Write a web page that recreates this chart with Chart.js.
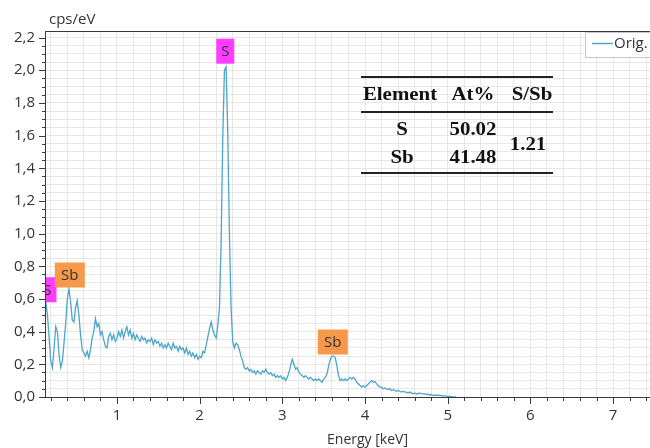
<!DOCTYPE html>
<html>
<head>
<meta charset="utf-8">
<script src="https://cdn.jsdelivr.net/npm/chart.js@4/dist/chart.umd.min.js"></script>
<style>
  html, body { margin: 0; padding: 0; background: #fff; overflow: hidden; }
  #contenedor { width: 700px; height: 448px; position: relative; }
</style>
</head>
<body>
<div id="contenedor"><canvas id="espectro"></canvas></div>
<script>
var energias = [
  0.12,0.14,0.16,0.18,0.20,0.22,0.24,0.26,0.28,0.30,
  0.32,0.34,0.36,0.38,0.40,0.42,0.44,0.46,0.48,0.50,
  0.52,0.54,0.56,0.58,0.60,0.62,0.64,0.66,0.68,0.70,
  0.72,0.74,0.76,0.78,0.80,0.82,0.84,0.86,0.88,0.90,
  0.92,0.94,0.96,0.98,1.00,1.02,1.04,1.06,1.08,1.10,
  1.12,1.14,1.16,1.18,1.20,1.22,1.24,1.26,1.28,1.30,
  1.32,1.34,1.36,1.38,1.40,1.42,1.44,1.46,1.48,1.50,
  1.52,1.54,1.56,1.58,1.60,1.62,1.64,1.66,1.68,1.70,
  1.72,1.74,1.76,1.78,1.80,1.82,1.84,1.86,1.88,1.90,
  1.92,1.94,1.96,1.98,2.00,2.02,2.04,2.06,2.08,2.10,
  2.12,2.14,2.16,2.18,2.20,2.22,2.24,2.26,2.28,2.30,
  2.32,2.34,2.36,2.38,2.40,2.42,2.44,2.46,2.48,2.50,
  2.52,2.54,2.56,2.58,2.60,2.62,2.64,2.66,2.68,2.70,
  2.72,2.74,2.76,2.78,2.80,2.82,2.84,2.86,2.88,2.90,
  2.92,2.94,2.96,2.98,3.00,3.02,3.04,3.06,3.08,3.10,
  3.12,3.14,3.16,3.18,3.20,3.22,3.24,3.26,3.28,3.30,
  3.32,3.34,3.36,3.38,3.40,3.42,3.44,3.46,3.48,3.50,
  3.52,3.54,3.56,3.58,3.60,3.62,3.64,3.66,3.68,3.70,
  3.72,3.74,3.76,3.78,3.80,3.82,3.84,3.86,3.88,3.90,
  3.92,3.94,3.96,3.98,4.00,4.02,4.04,4.06,4.08,4.10,
  4.12,4.14,4.16,4.18,4.20,4.22,4.24,4.26,4.28,4.30,
  4.32,4.34,4.36,4.38,4.40,4.42,4.44,4.46,4.48,4.50,
  4.52,4.54,4.56,4.58,4.60,4.62,4.64,4.66,4.68,4.70,
  4.72,4.74,4.76,4.78,4.80,4.82,4.84,4.86,4.88,4.90,
  4.92,4.94,4.96,4.98,5.00,5.02,5.04,5.06,5.08,5.10
];

// cps/eV (serie "Orig.")
var cuentas = [
  0.60,0.58,0.50,0.36,0.22,0.18,0.30,0.43,0.40,0.26,
  0.18,0.22,0.33,0.45,0.60,0.66,0.58,0.47,0.46,0.55,
  0.59,0.50,0.38,0.29,0.27,0.25,0.28,0.24,0.29,0.36,
  0.40,0.48,0.43,0.45,0.38,0.40,0.35,0.31,0.30,0.37,
  0.39,0.35,0.38,0.34,0.36,0.40,0.37,0.41,0.36,0.40,
  0.43,0.38,0.41,0.36,0.39,0.35,0.38,0.36,0.34,0.37,
  0.35,0.36,0.33,0.35,0.34,0.36,0.32,0.35,0.33,0.34,
  0.31,0.33,0.30,0.32,0.30,0.33,0.31,0.29,0.33,0.30,
  0.31,0.28,0.31,0.29,0.30,0.27,0.30,0.26,0.28,0.25,
  0.27,0.24,0.26,0.23,0.25,0.24,0.28,0.27,0.32,0.37,
  0.42,0.46,0.41,0.38,0.36,0.44,0.55,0.95,1.60,2.00,
  2.02,1.62,1.00,0.55,0.34,0.30,0.33,0.32,0.29,0.25,
  0.22,0.18,0.17,0.18,0.16,0.17,0.15,0.16,0.14,0.16,
  0.15,0.14,0.16,0.15,0.17,0.15,0.14,0.15,0.13,0.14,
  0.12,0.13,0.12,0.13,0.11,0.12,0.10,0.12,0.15,0.19,
  0.23,0.20,0.17,0.18,0.15,0.14,0.13,0.12,0.13,0.12,
  0.11,0.12,0.11,0.10,0.11,0.10,0.11,0.10,0.09,0.11,
  0.12,0.14,0.19,0.23,0.25,0.25,0.24,0.19,0.13,0.10,
  0.11,0.10,0.11,0.10,0.11,0.12,0.11,0.12,0.11,0.09,
  0.08,0.07,0.06,0.07,0.06,0.07,0.08,0.09,0.10,0.09,
  0.095,0.08,0.07,0.06,0.06,0.05,0.055,0.05,0.045,0.05,
  0.04,0.045,0.04,0.035,0.04,0.035,0.03,0.035,0.03,0.03,
  0.025,0.03,0.025,0.02,0.025,0.02,0.02,0.025,0.02,0.018,
  0.02,0.015,0.018,0.012,0.015,0.01,0.012,0.01,0.012,0.008,
  0.01,0.006,0.008,0.005,0.004,0.003,0.002,0.001,0,0
];

var xEtiquetas = ['1', '2', '3', '4', '5', '6', '7'];
var yEtiquetas = ['0,0', '0,2', '0,4', '0,6', '0,8', '1,0', '1,2', '1,4', '1,6', '1,8', '2,0', '2,2'];

// Marcas de elementos sobre los picos
var picosNombre = ['S', 'Sb', 'S', 'Sb'];
var picosEnergia = [0.16, 0.43, 2.31, 3.61];
var picosAltura = [0.58, 0.67, 2.04, 0.26];

// Tabla de composición
var tablaCabecera = ['Element', 'At%', 'S/Sb'];
var tablaElementos = ['S', 'Sb'];
var tablaAtomico = ['50.02', '41.48'];
var tablaRelacion = '1.21';

var colorLinea = '#4ea6c6';
var colorTexto = '#333333';
var colorMarca = { 'S': '#ff3cff', 'Sb': '#f7994a' };
var fuente = "'Open Sans', 'DejaVu Sans', sans-serif";

function esEntero(v) { return Math.abs(v - Math.round(v)) < 1e-6; }
function esMayorY(v) { return Math.abs(v * 5 - Math.round(v * 5)) < 1e-6; }

var pluginDibujo = {
  id: 'dibujoExtra',
  afterDatasetsDraw: function(chart) {
    var ctx = chart.ctx, area = chart.chartArea;
    var sx = chart.scales.x, sy = chart.scales.y;
    ctx.save();
    ctx.beginPath();
    ctx.rect(area.left, area.top, area.right - area.left, area.bottom - area.top);
    ctx.clip();
    picosNombre.forEach(function(nombre, i) {
      var px = sx.getPixelForValue(picosEnergia[i]);
      var py = sy.getPixelForValue(picosAltura[i]);
      var w = nombre.length > 1 ? 30 : 18, h = 25;
      ctx.fillStyle = colorMarca[nombre];
      ctx.fillRect(px - w / 2, py - h, w, h);
      ctx.fillStyle = colorTexto;
      ctx.font = '15px ' + fuente;
      ctx.textAlign = 'center';
      ctx.textBaseline = 'middle';
      ctx.fillText(nombre, px, py - h / 2 + 1);
    });
    ctx.restore();
  },
  afterDraw: function(chart) {
    var ctx = chart.ctx, area = chart.chartArea;
    var sx = chart.scales.x, sy = chart.scales.y;
    ctx.save();

    // borde del área
    ctx.strokeStyle = '#3a3a3a';
    ctx.lineWidth = 1;
    ctx.strokeRect(area.left + 0.5, area.top + 0.5, area.right - area.left, area.bottom - area.top);

    // marcas de los ejes
    ctx.beginPath();
    sx.ticks.forEach(function(t) {
      var px = Math.round(sx.getPixelForValue(t.value)) + 0.5;
      var largo = esEntero(t.value) ? 7 : 4;
      ctx.moveTo(px, area.bottom);
      ctx.lineTo(px, area.bottom + largo);
    });
    sy.ticks.forEach(function(t) {
      var py = Math.round(sy.getPixelForValue(t.value)) + 0.5;
      var largo = esMayorY(t.value) ? 6 : 3;
      ctx.moveTo(area.left, py);
      ctx.lineTo(area.left - largo, py);
    });
    ctx.stroke();

    // unidad del eje y
    ctx.fillStyle = colorTexto;
    ctx.font = '15px ' + fuente;
    ctx.textAlign = 'left';
    ctx.textBaseline = 'middle';
    ctx.fillText('cps/eV', area.left + 4, 20);

    // leyenda
    var lx = 585, ly = 32;
    ctx.fillStyle = '#ffffff';
    ctx.fillRect(lx, ly, 110, 25);
    ctx.strokeStyle = '#c8c8c8';
    ctx.strokeRect(lx + 0.5, ly + 0.5, 110, 25);
    ctx.strokeStyle = colorLinea;
    ctx.lineWidth = 1.5;
    ctx.beginPath();
    ctx.moveTo(lx + 7, ly + 11.5);
    ctx.lineTo(lx + 28, ly + 11.5);
    ctx.stroke();
    ctx.fillStyle = colorTexto;
    ctx.fillText(chart.data.datasets[0].label, lx + 29, ly + 12);

    // tabla
    var tx0 = 361, tx1 = 553;
    var colX = [400, 473, 532];
    ctx.strokeStyle = '#222';
    ctx.lineWidth = 2;
    [77, 112, 173].forEach(function(y) {
      ctx.beginPath();
      ctx.moveTo(tx0, y);
      ctx.lineTo(tx1, y);
      ctx.stroke();
    });
    ctx.fillStyle = '#111';
    ctx.font = "bold 18px 'Liberation Serif', 'DejaVu Serif', serif";
    ctx.textAlign = 'center';
    ctx.textBaseline = 'middle';
    function texto(t, x, y) {
      ctx.save();
      ctx.translate(x, y);
      ctx.scale(1.16, 1);
      ctx.fillText(t, 0, 0);
      ctx.restore();
    }
    tablaCabecera.forEach(function(t, i) { texto(t, colX[i], 95); });
    tablaElementos.forEach(function(t, i) { texto(t, 402, 130 + i * 28); });
    tablaAtomico.forEach(function(t, i) { texto(t, 473, 130 + i * 28); });
    texto(tablaRelacion, 528, 145);

    ctx.restore();
  }
};

var ctx = document.getElementById('espectro').getContext('2d');
new Chart(ctx, {
  type: 'line',
  data: {
    labels: energias,
    datasets: [{
      label: 'Orig.',
      data: energias.map(function(e, i) { return { x: e, y: cuentas[i] }; }),
      borderColor: colorLinea,
      borderWidth: 1.3,
      pointRadius: 0,
      tension: 0,
      fill: false
    }]
  },
  options: {
    responsive: true,
    maintainAspectRatio: false,
    animation: false,
    layout: { padding: { top: 31, right: 10, left: 0, bottom: 0 } },
    plugins: { legend: { display: false }, tooltip: { enabled: false } },
    scales: {
      x: {
        type: 'linear',
        min: 0.13,
        max: 7.93,
        afterBuildTicks: function(scale) {
          var t = [];
          for (var i = 1; i <= 39; i++) t.push({ value: i / 5 });
          scale.ticks = t;
        },
        afterFit: function(scale) { scale.height = 51; },
        grid: { color: '#e6e6e6', lineWidth: 1, tickLength: 7, tickColor: 'rgba(0,0,0,0)' },
        border: { display: false },
        ticks: {
          autoSkip: false,
          maxRotation: 0,
          padding: 3,
          color: colorTexto,
          font: { family: fuente, size: 15 },
          callback: function(v) {
            return esEntero(v) ? (xEtiquetas[Math.round(v) - 1] || '') : '';
          }
        },
        title: {
          display: true,
          text: 'Energy [keV]',
          color: colorTexto,
          font: { family: fuente, size: 14 },
          padding: { top: 0, bottom: 0 }
        }
      },
      y: {
        min: 0,
        max: 2.24,
        afterBuildTicks: function(scale) {
          var t = [];
          for (var i = 0; i <= 44; i++) t.push({ value: i / 20 });
          scale.ticks = t;
        },
        afterFit: function(scale) { scale.width = 45; },
        grid: { color: '#e6e6e6', lineWidth: 1, tickLength: 6, tickColor: 'rgba(0,0,0,0)' },
        border: { display: false },
        ticks: {
          autoSkip: false,
          padding: 4,
          color: colorTexto,
          font: { family: fuente, size: 15 },
          callback: function(v) {
            return esMayorY(v) ? (yEtiquetas[Math.round(v * 5)] || '') : '';
          }
        }
      }
    }
  },
  plugins: [pluginDibujo]
});
</script>
</body>
</html>
